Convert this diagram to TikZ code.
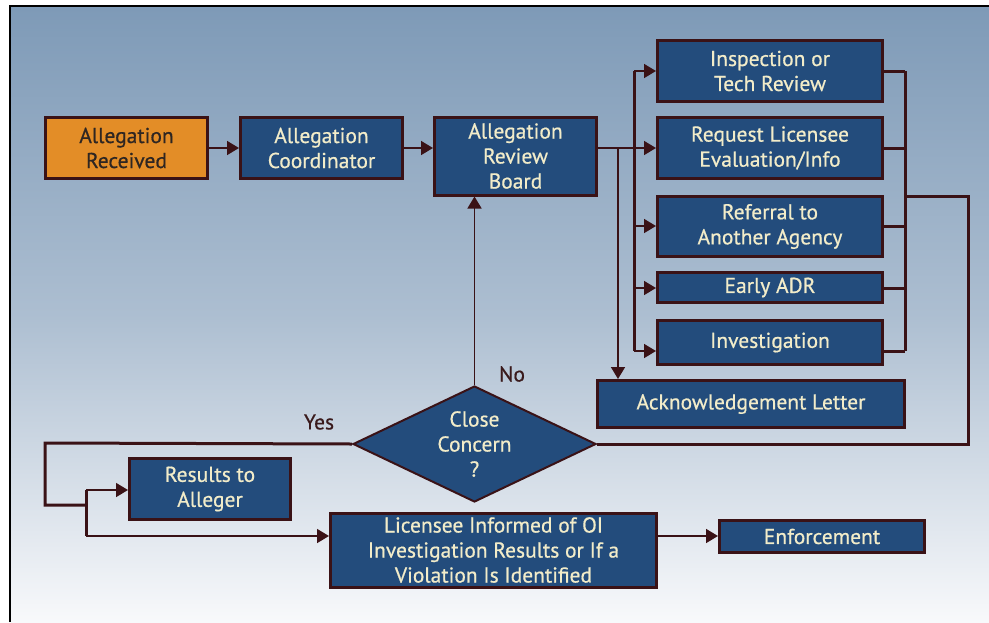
\documentclass[tikz,border=0pt]{standalone}
\usepackage{fontspec}
\setmainfont{PT Sans}
\newfontfamily\boxfont{PT Sans}[FakeBold=0.6]
\usetikzlibrary{arrows.meta,shapes.geometric,calc}
\definecolor{boxfill}{HTML}{234C7C}
\definecolor{edge}{HTML}{3A1216}
\definecolor{orangefill}{HTML}{E38D27}
\definecolor{txt}{HTML}{F2ECC9}
\definecolor{darktxt}{HTML}{2E2622}
\definecolor{lbltxt}{HTML}{3A1A1C}
\definecolor{bgtop}{HTML}{7E9AB7}
\definecolor{bgbot}{HTML}{F8F9FB}
\tikzset{
  flowbox/.style={draw=edge, line width=3pt, fill=boxfill, text=txt, align=center,
    inner sep=0pt, font=\boxfont\fontsize{21.5}{25}\selectfont},
  startbox/.style={flowbox, fill=orangefill, text=darktxt},
  decision/.style={diamond, draw=edge, line width=2pt, fill=boxfill, text=txt, align=center,
    inner sep=0pt, font=\boxfont\fontsize{21.5}{25}\selectfont},
  thinlink/.style={draw=edge, line width=1.6pt},
  thicklink/.style={draw=edge, line width=3pt},
  arr/.style={-{Triangle[length=12pt,width=14pt]}},
  lbl/.style={text=lbltxt, font=\boxfont\fontsize{21.5}{25}\selectfont, inner sep=0pt}
}
\begin{document}
\begin{tikzpicture}[x=1pt,y=-1pt]
\useasboundingbox (0,0) rectangle (989,622);
\fill[white] (0,0) rectangle (989,622);
\shade[top color=bgtop, bottom color=bgbot, middle color=bgtop!62!bgbot] (11,7) rectangle (989,622);
\draw[black, line width=2.5pt] (10,622) -- (10,6) -- (989,6);

% nodes
\node[startbox, minimum width=162pt, minimum height=61pt] (rec) at (126.5,148) {Allegation\\Received};
\node[flowbox, minimum width=162pt, minimum height=61pt] (coord) at (321.5,148) {Allegation\\Coordinator};
\node[flowbox, minimum width=162pt, minimum height=78pt] (arb) at (515.5,156) {Allegation\\Review\\Board};
\node[flowbox, minimum width=225pt, minimum height=61pt] (insp) at (770,71) {Inspection or\\Tech Review};
\node[flowbox, minimum width=225pt, minimum height=61pt] (req) at (770,148) {Request Licensee\\Evaluation/Info};
\node[flowbox, minimum width=225pt, minimum height=60pt] (ref) at (770,226.5) {Referral to\\Another Agency};
\node[flowbox, minimum width=225pt, minimum height=30pt] (adr) at (770,287.5) {Early ADR};
\node[flowbox, minimum width=225pt, minimum height=44pt] (inv) at (770,342.5) {Investigation};
\node[flowbox, minimum width=307pt, minimum height=47pt] (ack) at (751,404) {Acknowledgement Letter};
\node[decision, minimum width=243pt, minimum height=116pt, aspect=2.1] (dec) at (474.5,444) {Close\\Concern\\?};
\node[flowbox, minimum width=161pt, minimum height=61pt] (res) at (210,489) {Results to\\Alleger};
\node[flowbox, minimum width=326pt, minimum height=74pt] (lic) at (493.5,550) {Licensee Informed of OI\\Investigation Results or If a\\Violation Is Identified};
\node[flowbox, minimum width=205pt, minimum height=32pt] (enf) at (822,536.5) {Enforcement};

\node[lbl] (no) at (512,374) {No};
\node[lbl] (yes) at (319,422) {Yes};

% junction coordinates
\coordinate (bus) at (634,148);
\coordinate (drop) at (618,148);
\coordinate (collect) at (905,196);
\coordinate (loopR) at (968,196);
\coordinate (yesL) at (45,443);
\coordinate (yesB) at (45,505);
\coordinate (split) at (86,505);
\coordinate (splitT) at (86,490);
\coordinate (splitB) at (86,536);

% main flow
\draw[thinlink, arr] (rec.east) -- (coord.west);
\draw[thinlink, arr] (coord.east |- 0,148) -- (arb.west |- 0,148);
\draw[thinlink] (arb.east |- bus) -- (bus);
\draw[thinlink, arr] (drop) -- (drop |- ack.north);

% left bus
\draw[thicklink] (634,71) -- (634,351);
\draw[thinlink, arr] (634,71) -- (insp.west |- 0,71);
\draw[thinlink, arr] (bus) -- (req.west |- bus);
\draw[thinlink, arr] (634,226) -- (ref.west |- 0,226);
\draw[thinlink, arr] (634,288) -- (adr.west |- 0,288);
\draw[thinlink, arr] (634,351) -- (inv.west |- 0,351);

% right collector
\draw[thicklink] (905,71) -- (905,351);
\draw[thicklink] (insp.east |- 0,71) -- (905,71);
\draw[thicklink] (req.east |- 0,148) -- (905,148);
\draw[thicklink] (ref.east |- 0,226) -- (905,226);
\draw[thicklink] (adr.east |- 0,288) -- (905,288);
\draw[thicklink] (inv.east |- 0,351) -- (905,351);
\draw[thicklink] (collect) -- (loopR) -- (loopR |- dec.east) -- (dec.east);

% decision
\draw[thinlink, arr] (dec.north) -- (dec.north |- arb.south);
\draw[thicklink] (dec.west) -- (yesL) -- (yesB) -- (split);
\draw[thicklink] (splitT) -- (splitB);
\draw[thinlink, arr] (splitT) -- (res.west |- splitT);
\draw[thinlink, arr] (splitB) -- (lic.west |- splitB);
\draw[thinlink, arr] (lic.east |- 0,536) -- (enf.west |- 0,536);
\end{tikzpicture}
\end{document}
